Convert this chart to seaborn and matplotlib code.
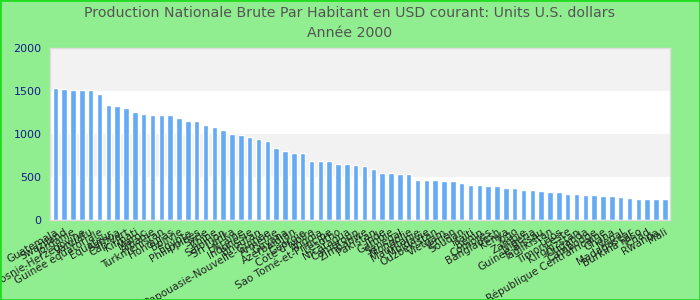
import matplotlib
matplotlib.use("Agg")
import matplotlib.pyplot as plt
import seaborn as sns
import pandas as pd
from matplotlib.patches import Rectangle

countries = [
    "Guatemala", "Swaziland", "Jordanie", "Bosnie-Herzégovine", "Vanuatu",
    "Guinée équatoriale", "Équateur", "Samoa", "Cap-Vert", "Kiribati",
    "Maroc", "Albanie", "Turkménistan", "Honduras", "Bolivie",
    "Égypte", "Philippines", "Syrie", "Chine", "Salomon",
    "Sri Lanka", "Ukraine", "Indonésie", "Bhoutan", "Papouasie-Nouvelle-Guinée",
    "Arménie", "Guyana", "Azerbaïdjan", "Géorgie", "Côte d'Ivoire",
    "Angola", "Sao Tomé-et-Principe", "Lesotho", "Nicaragua", "Cameroun",
    "Zimbabwe", "Pakistan", "Inde", "Gambie", "Sénégal",
    "Mongolie", "Mauritanie", "Moldavie", "Ouzbékistan", "Vietnam",
    "Yémen", "Soudan", "Haïti", "Bénin", "Comores",
    "Bangladesh", "Kenya", "Togo", "Zambie", "Nigeria",
    "Guinée-Bissau", "Tadjikistan", "Laos", "Timor-Leste", "Kirghizstan",
    "Ouganda", "Cambodge", "République Centrafricaine", "Ghana", "Népal",
    "Madagascar", "Burkina Faso", "Tchad", "Rwanda", "Mali",
]
values = [
    1538, 1526, 1514, 1514, 1514, 1468, 1340, 1328, 1305, 1258,
    1235, 1223, 1223, 1223, 1188, 1153, 1153, 1107, 1083, 1048,
    1002, 990, 967, 943, 920, 839, 804, 780, 780, 687,
    687, 687, 652, 652, 641, 629, 594, 547, 547, 536,
    536, 466, 466, 466, 454, 454, 431, 408, 408, 396,
    396, 373, 373, 349, 349, 338, 326, 326, 303, 303,
    291, 291, 280, 280, 268, 256, 245, 245, 245, 245,
]
yticks = [0, 500, 1000, 1500, 2000]
title = "Production Nationale Brute Par Habitant en USD courant: Units U.S. dollars\nAnnée 2000"

df = pd.DataFrame({"pays": countries, "valeur": values})

sns.set_style("white")
plt.rcParams['font.family'] = ['DejaVu Sans']

fig = plt.figure(figsize=(7, 3), dpi=100, facecolor="#90ee90")
ax = fig.add_axes([0.0714, 0.267, 0.886, 0.573])
ax.set_facecolor("white")

for i in range(len(yticks) - 1):
    if i % 2 == 1:
        ax.axhspan(yticks[i], yticks[i + 1], color="#f2f2f2", zorder=0, lw=0)

sns.barplot(data=df, x="pays", y="valeur", color="#64aaf4", saturation=1,
            width=0.62, ax=ax, zorder=2)

ax.set_ylim(0, 2000)
ax.set_xlim(-0.6, len(countries) - 0.4)
ax.set_yticks(yticks)
ax.set_yticklabels([str(v) for v in yticks], color="#1a1a8c", fontsize=8)
ax.set_xticks(range(len(countries)))
ax.set_xticklabels(countries, rotation=30, ha="right", rotation_mode="anchor",
                   fontsize=7.5, color="#222222")
ax.tick_params(axis="x", length=0, pad=5)
ax.tick_params(axis="y", length=0, pad=6)
ax.set_xlabel("")
ax.set_ylabel("")
for s in ax.spines.values():
    s.set_color("#dddddd")
    s.set_linewidth(1)

fig.suptitle(title, y=0.98, fontsize=10.2, color="#555555", linespacing=1.55)

fig.patches.append(Rectangle((0, 0), 1, 1, transform=fig.transFigure,
                             fill=False, edgecolor="#22dd22", linewidth=2))

fig.savefig("out.png", dpi=100, facecolor=fig.get_facecolor())
